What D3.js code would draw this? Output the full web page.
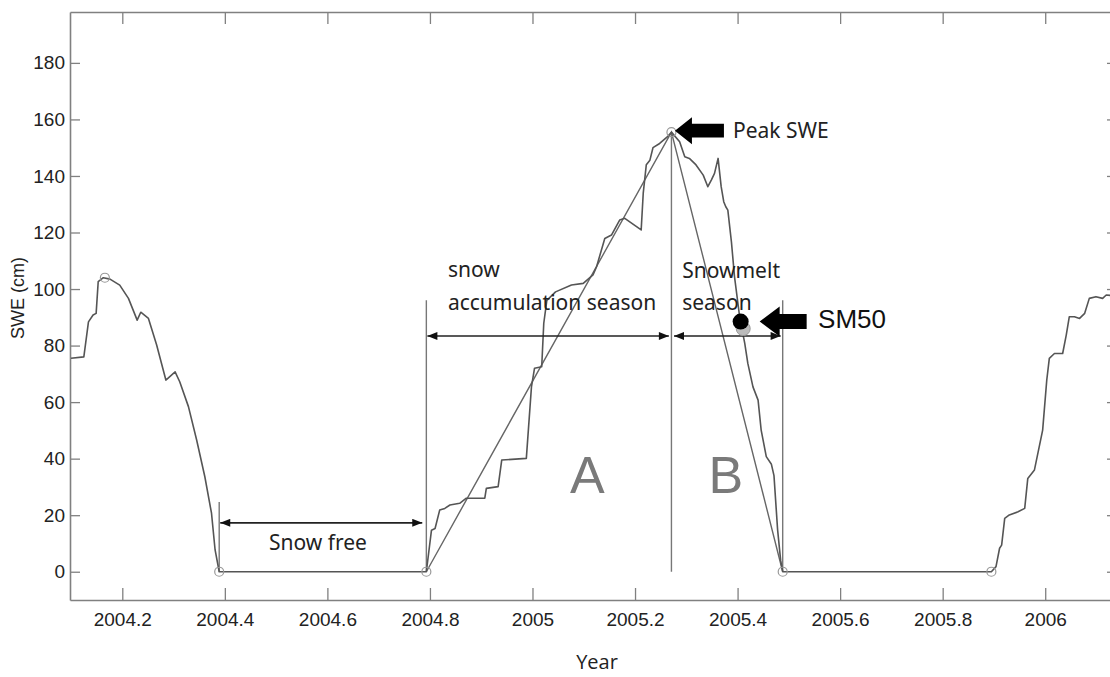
<!DOCTYPE html>
<html>
<head>
<meta charset="utf-8">
<script src="https://d3js.org/d3.v7.min.js"></script>
<style>
  body { margin: 0; background: #fff; }
  svg { display: block; }
</style>
</head>
<body>
<script>
// SWE time series (year, cm)
const years = [
  2004.100, 2004.125, 2004.134, 2004.143, 2004.149, 2004.153, 2004.163, 2004.176, 2004.195, 2004.212,
  2004.229, 2004.236, 2004.251, 2004.267, 2004.285, 2004.303, 2004.312, 2004.329, 2004.345, 2004.361,
  2004.374, 2004.381, 2004.389,
  2004.793, 2004.803, 2004.810, 2004.819, 2004.829, 2004.839, 2004.858, 2004.871, 2004.907, 2004.910,
  2004.933, 2004.940, 2004.988, 2004.998, 2005.004, 2005.018, 2005.022, 2005.028, 2005.045, 2005.076,
  2005.099, 2005.118, 2005.125, 2005.141, 2005.154, 2005.170, 2005.180, 2005.212, 2005.216, 2005.222,
  2005.229, 2005.235, 2005.248, 2005.264, 2005.271,
  2005.287, 2005.297, 2005.306, 2005.319, 2005.333, 2005.342, 2005.349, 2005.355, 2005.362, 2005.368,
  2005.373, 2005.377, 2005.381, 2005.388, 2005.394, 2005.404, 2005.414, 2005.420, 2005.430, 2005.440,
  2005.446, 2005.456, 2005.466, 2005.471, 2005.478, 2005.484, 2005.488,
  2005.895, 2005.904, 2005.911, 2005.915, 2005.921, 2005.930, 2005.947, 2005.960, 2005.966, 2005.979,
  2005.995, 2006.003, 2006.008, 2006.018, 2006.034, 2006.041, 2006.047, 2006.057, 2006.067, 2006.077,
  2006.086, 2006.099, 2006.112, 2006.119, 2006.140
];
const swe = [
  75.5, 76, 88.4, 90.8, 91.4, 102.6, 104.0, 103.5, 101.4, 96.7,
  89, 91.8, 89.6, 80.2, 67.8, 70.7, 67.2, 58.4, 46.6, 33.6,
  20.7, 7.7, 0,
  0, 14.7, 15.3, 21.8, 22.4, 23.6, 24.2, 26, 26, 29.5,
  30.1, 39.5, 40.1, 65.4, 72, 72.5, 87.9, 96, 99, 101.4,
  102, 105, 107.9, 117.9, 119.1, 124.4, 125, 120.9, 133.9, 144,
  145.6, 150, 151.5, 154.0, 155.5,
  152.1, 146.8, 146.2, 143.9, 140.3, 136.2, 138.6, 140.9, 146.2, 136.2,
  130.9, 129.1, 127.9, 116.7, 104.4, 90.2, 80.8, 73.7, 65.4, 60.7,
  50.1, 40.7, 38, 34, 15, 4, 0,
  0, 1.8, 8.3, 9.4, 18.9, 20.1, 21.2, 22.4, 33, 36,
  50.1, 67.8, 75.5, 77.2, 77.2, 83.7, 90.2, 90.2, 89.6, 91.4,
  96.7, 97.3, 96.7, 97.9, 97.5
];

// hollow markers at peaks and start/end of snow cover
const markYears = [2004.166, 2004.389, 2004.793, 2005.271, 2005.488, 2005.895];
const markSwe = [104, 0, 0, 155.5, 0, 0];

// peak and melt-out used for the triangle
const accStart = [2004.793, 0];
const peak = [2005.271, 155.5];
const meltEnd = [2005.488, 0];
const sm50 = [2005.406, 88.5];
const sm50Grey = [2005.411, 86];

const yTicks = [0, 20, 40, 60, 80, 100, 120, 140, 160, 180];
const xTicks = [2004.2, 2004.4, 2004.6, 2004.8, 2005, 2005.2, 2005.4, 2005.6, 2005.8, 2006];

const W = 1110, H = 677;
const x = d3.scaleLinear().domain([2004.098, 2006.14]).range([70, 1117]);
const y = d3.scaleLinear().domain([-10, 198]).range([600, 12]);

const svg = d3.select("body").append("svg").attr("width", W).attr("height", H);

svg.append("defs").append("clipPath").attr("id", "plot")
  .append("rect").attr("x", 70).attr("y", 12).attr("width", 1047).attr("height", 588);

const defs = svg.select("defs");
defs.append("marker")
  .attr("id", "head")
  .attr("markerUnits", "userSpaceOnUse")
  .attr("viewBox", "0 0 10 8")
  .attr("refX", 10).attr("refY", 4)
  .attr("markerWidth", 11).attr("markerHeight", 8)
  .attr("orient", "auto-start-reverse")
  .append("path").attr("d", "M0,0 L10,4 L0,8 Z").attr("fill", "#111");

// axes (ticks point inward)
const tickFont = g => g.selectAll("text")
  .attr("font-family", "'Liberation Sans', Arial, sans-serif")
  .attr("font-size", 19).attr("fill", "#222");

const styleAxis = g => {
  g.select(".domain").attr("stroke", "#808080").attr("stroke-width", 1.6);
  g.selectAll(".tick line").attr("stroke", "#808080").attr("stroke-width", 1.3);
};

svg.append("g").attr("transform", "translate(70,0)")
  .call(d3.axisLeft(y).tickValues(yTicks).tickSizeInner(-10).tickSizeOuter(0).tickPadding(5))
  .call(styleAxis).call(tickFont);

svg.append("g").attr("transform", "translate(1117,0)")
  .call(d3.axisRight(y).tickValues(yTicks).tickSizeInner(-10).tickSizeOuter(0).tickFormat(""))
  .call(styleAxis);

svg.append("g").attr("transform", "translate(0,600)")
  .call(d3.axisBottom(x).tickValues(xTicks).tickSizeInner(-12).tickSizeOuter(0).tickPadding(13)
    .tickFormat(d => String(+d.toFixed(1))))
  .call(styleAxis).call(tickFont);

svg.append("g").attr("transform", "translate(0,12)")
  .call(d3.axisTop(x).tickValues(xTicks).tickSizeInner(-12).tickSizeOuter(0).tickFormat(""))
  .call(styleAxis);

// axis titles
svg.append("text")
  .attr("transform", "translate(24,298) rotate(-90)")
  .attr("text-anchor", "middle")
  .attr("font-family", "'Liberation Sans', Arial, sans-serif")
  .attr("font-size", 18).attr("fill", "#222")
  .text("SWE (cm)");

svg.append("text")
  .attr("x", 597).attr("y", 669)
  .attr("text-anchor", "middle")
  .attr("font-family", "'Open Sans', sans-serif")
  .attr("font-size", 20).attr("fill", "#222")
  .text("Year");

const plot = svg.append("g").attr("clip-path", "url(#plot)");

// vertical guide lines
const vlines = [
  [2004.389, 0, 24.7],
  [2004.793, 0, 96],
  [peak[0], 0, peak[1]],
  [2005.488, 0, 96]
];
plot.selectAll("line.v").data(vlines).join("line")
  .attr("class", "v")
  .attr("x1", d => x(d[0])).attr("x2", d => x(d[0]))
  .attr("y1", d => y(d[1])).attr("y2", d => y(d[2]))
  .attr("stroke", "#777").attr("stroke-width", 1.4);

// triangle
plot.append("path")
  .attr("d", d3.line().x(d => x(d[0])).y(d => y(d[1]))([accStart, peak, meltEnd]))
  .attr("fill", "none").attr("stroke", "#666").attr("stroke-width", 1.4);

// SWE curve
const series = years.map((t, i) => [t, swe[i]]);
plot.append("path")
  .attr("d", d3.line().x(d => x(d[0])).y(d => y(d[1]))(series))
  .attr("fill", "none").attr("stroke", "#555").attr("stroke-width", 1.6)
  .attr("stroke-linejoin", "round");

plot.selectAll("circle.m").data(markYears.map((t, i) => [t, markSwe[i]])).join("circle")
  .attr("class", "m")
  .attr("cx", d => x(d[0])).attr("cy", d => y(d[1])).attr("r", 4.5)
  .attr("fill", "none").attr("stroke", "#999").attr("stroke-width", 1.2);

// double-headed season arrows
const spans = [
  [2004.391, 2004.785, 17.3],
  [2004.795, 2005.266, 83.4],
  [2005.276, 2005.484, 83.4]
];
svg.selectAll("line.span").data(spans).join("line")
  .attr("class", "span")
  .attr("x1", d => x(d[0])).attr("x2", d => x(d[1]))
  .attr("y1", d => y(d[2])).attr("y2", d => y(d[2]))
  .attr("stroke", "#222").attr("stroke-width", 1.6)
  .attr("marker-start", "url(#head)").attr("marker-end", "url(#head)");

// SM50 marker
svg.append("circle")
  .attr("cx", x(sm50Grey[0])).attr("cy", y(sm50Grey[1])).attr("r", 7)
  .attr("fill", "#bbb").attr("stroke", "#999");
svg.append("circle")
  .attr("cx", x(sm50[0])).attr("cy", y(sm50[1])).attr("r", 8)
  .attr("fill", "#000");

// block arrows pointing left
function blockArrow(tx, ty, headLen, headHalf, shaftHalf, len) {
  return `M${tx},${ty} L${tx + headLen},${ty - headHalf} L${tx + headLen},${ty - shaftHalf}` +
    ` L${tx + len},${ty - shaftHalf} L${tx + len},${ty + shaftHalf} L${tx + headLen},${ty + shaftHalf}` +
    ` L${tx + headLen},${ty + headHalf} Z`;
}
svg.append("path")
  .attr("d", blockArrow(x(peak[0]) + 3.5, y(peak[1]) - 1.5, 17, 13.5, 6.8, 49))
  .attr("fill", "#000");
svg.append("path")
  .attr("d", blockArrow(x(sm50[0]) + 19, y(sm50[1]), 20, 15, 7.5, 47))
  .attr("fill", "#000");

// annotation texts
const notes = [
  { t: "snow", yr: 2004.835, v: 104.2, size: 21 },
  { t: "accumulation season", yr: 2004.835, v: 92.6, size: 21 },
  { t: "Snowmelt", yr: 2005.292, v: 103.9, size: 21 },
  { t: "season", yr: 2005.292, v: 92.6, size: 21 },
  { t: "Peak SWE", yr: 2005.391, v: 153.4, size: 21 },
  { t: "Snow free", yr: 2004.486, v: 7.7, size: 21 }
];
svg.selectAll("text.note").data(notes).join("text")
  .attr("class", "note")
  .attr("x", d => x(d.yr)).attr("y", d => y(d.v))
  .attr("font-family", "'Noto Sans', 'Open Sans', sans-serif")
  .attr("font-size", d => d.size).attr("fill", "#222")
  .text(d => d.t);

svg.append("text")
  .attr("x", x(2005.557)).attr("y", y(86.2))
  .attr("font-family", "'Liberation Sans', Arial, sans-serif")
  .attr("font-size", 26).attr("fill", "#111")
  .text("SM50");

const letters = [
  { t: "A", yr: 2005.107, v: 27.8 },
  { t: "B", yr: 2005.377, v: 27.8 }
];
svg.selectAll("text.big").data(letters).join("text")
  .attr("class", "big")
  .attr("x", d => x(d.yr)).attr("y", d => y(d.v))
  .attr("text-anchor", "middle")
  .attr("font-family", "'Liberation Sans', Arial, sans-serif")
  .attr("font-size", 52).attr("fill", "#7a7a7a")
  .text(d => d.t);
</script>
</body>
</html>
